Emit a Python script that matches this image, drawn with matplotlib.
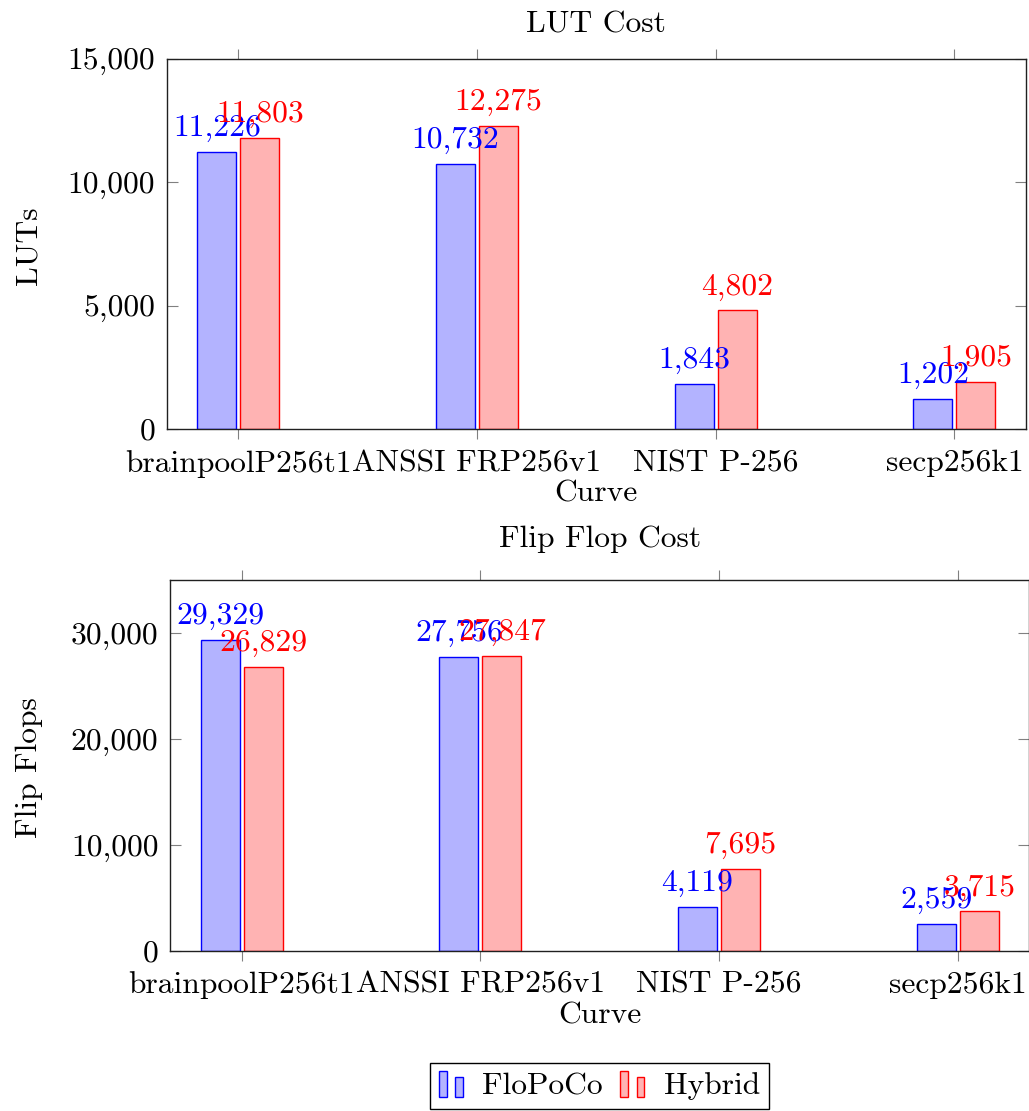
import matplotlib
matplotlib.use("Agg")
import matplotlib.pyplot as plt
from matplotlib.ticker import FuncFormatter, FixedLocator
from matplotlib.patches import Rectangle
from matplotlib.legend_handler import HandlerBase
import numpy as np

plt.rcParams['font.family'] = ['cmr10', 'DejaVu Serif']
plt.rcParams['axes.formatter.use_mathtext'] = True

# ---- data ----
curves = ["brainpoolP256t1", "ANSSI FRP256v1", "NIST P-256", "secp256k1"]
series_names = ["FloPoCo", "Hybrid"]
lut_flopoco = [11226, 10732, 1843, 1202]
lut_hybrid = [11803, 12275, 4802, 1905]
ff_flopoco = [29329, 27756, 4119, 2559]
ff_hybrid = [26829, 27847, 7695, 3715]
lut_yticks = [0, 5000, 10000, 15000]
ff_yticks = [0, 10000, 20000, 30000]

FS = 22.7
BLUE_FILL, BLUE_EDGE = "#b3b3ff", "#0000ff"
RED_FILL, RED_EDGE = "#ffb3b3", "#ff0000"

W, H = 1029, 1111
fig = plt.figure(figsize=(W / 100, H / 100), dpi=100)


def px_box(left, top, right, bottom):
    return [left / W, 1 - bottom / H, (right - left) / W, (bottom - top) / H]


ax_lut = fig.add_axes(px_box(166.7, 58.7, 1026, 429))
ax_ff = fig.add_axes(px_box(170, 580, 1029.3, 950.7))

bar_w = 0.163
shift = 0.09
fmt = FuncFormatter(lambda v, p: f"{int(v):,}")


def draw_panel(ax, a_vals, b_vals, ymax, yticks, title, ylabel, title_gap, ylabel_y):
    x = np.arange(len(curves))
    b1 = ax.bar(x - shift, a_vals, bar_w, color=BLUE_FILL, edgecolor=BLUE_EDGE,
                linewidth=1.0, label=series_names[0], zorder=2)
    b2 = ax.bar(x + shift, b_vals, bar_w, color=RED_FILL, edgecolor=RED_EDGE,
                linewidth=1.0, label=series_names[1], zorder=2)
    for bars, vals, col in ((b1, a_vals, BLUE_EDGE), (b2, b_vals, RED_EDGE)):
        for r, v in zip(bars, vals):
            ax.annotate(f"{v:,}", (r.get_x() + r.get_width() / 2, v),
                        xytext=(0, 11.5), textcoords="offset points",
                        ha="center", va="baseline", color=col, fontsize=FS,
                        zorder=3)
    ax.set_xlim(-0.3, 3.3)
    ax.set_ylim(0, ymax)
    ax.xaxis.set_major_locator(FixedLocator(x))
    ax.set_xticklabels(curves, fontsize=FS)
    ax.yaxis.set_major_locator(FixedLocator(yticks))
    ax.yaxis.set_major_formatter(fmt)
    ax.tick_params(axis="x", which="both", direction="out", length=7.2, width=0.8,
                   color="#808080", top=True, bottom=True, pad=7.8, labelsize=FS)
    ax.tick_params(axis="y", which="both", direction="in", length=7.9, width=0.8,
                   color="#808080", left=True, right=True, pad=8.4, labelsize=FS)
    for s in ax.spines.values():
        s.set_linewidth(1.0)
        s.set_color("#202020")
    hpx = ax.get_position().height * H
    ax.text(0.5, 1 + title_gap / hpx, title, transform=ax.transAxes,
            ha="center", va="baseline", fontsize=FS)
    ax.text(0.5, -72.7 / hpx, "Curve", transform=ax.transAxes,
            ha="center", va="baseline", fontsize=FS)
    fig.text(36.7 / W, 1 - ylabel_y / H, ylabel, rotation=90, rotation_mode="anchor",
             ha="center", va="baseline", fontsize=FS)
    return b1, b2


h1, h2 = draw_panel(ax_lut, lut_flopoco, lut_hybrid, 15000, lut_yticks,
                    "LUT Cost", "LUTs", 26.0, 245.8)
draw_panel(ax_ff, ff_flopoco, ff_hybrid, 35000, ff_yticks,
           "Flip Flop Cost", "Flip Flops", 32.7, 767.5)


class BarIconHandler(HandlerBase):
    """Legend glyph made of two small bars of unequal height."""

    def create_artists(self, legend, orig_handle, xdescent, ydescent,
                       width, height, fontsize, trans):
        fc = orig_handle.patches[0].get_facecolor()
        ec = orig_handle.patches[0].get_edgecolor()
        bw = width * 0.32
        x0, y0 = -xdescent, -ydescent - height * 0.1
        r1 = Rectangle((x0, y0), bw, height * 1.15, facecolor=fc, edgecolor=ec,
                       linewidth=1.0, transform=trans)
        r2 = Rectangle((x0 + width - bw, y0), bw, height * 0.87, facecolor=fc,
                       edgecolor=ec, linewidth=1.0, transform=trans)
        return [r1, r2]


leg = fig.legend([h1, h2], series_names, loc="center",
                 bbox_to_anchor=(599.5 / W, 1 - 1086 / H), ncol=2,
                 fontsize=FS, frameon=True, fancybox=False, framealpha=1,
                 edgecolor="black", handlelength=0.76, handleheight=0.75,
                 handletextpad=0.62, columnspacing=0.55, borderpad=0.28,
                 borderaxespad=0.0, handler_map={type(h1): BarIconHandler()})
leg.get_frame().set_linewidth(1.0)

fig.savefig("out.png", dpi=100)
